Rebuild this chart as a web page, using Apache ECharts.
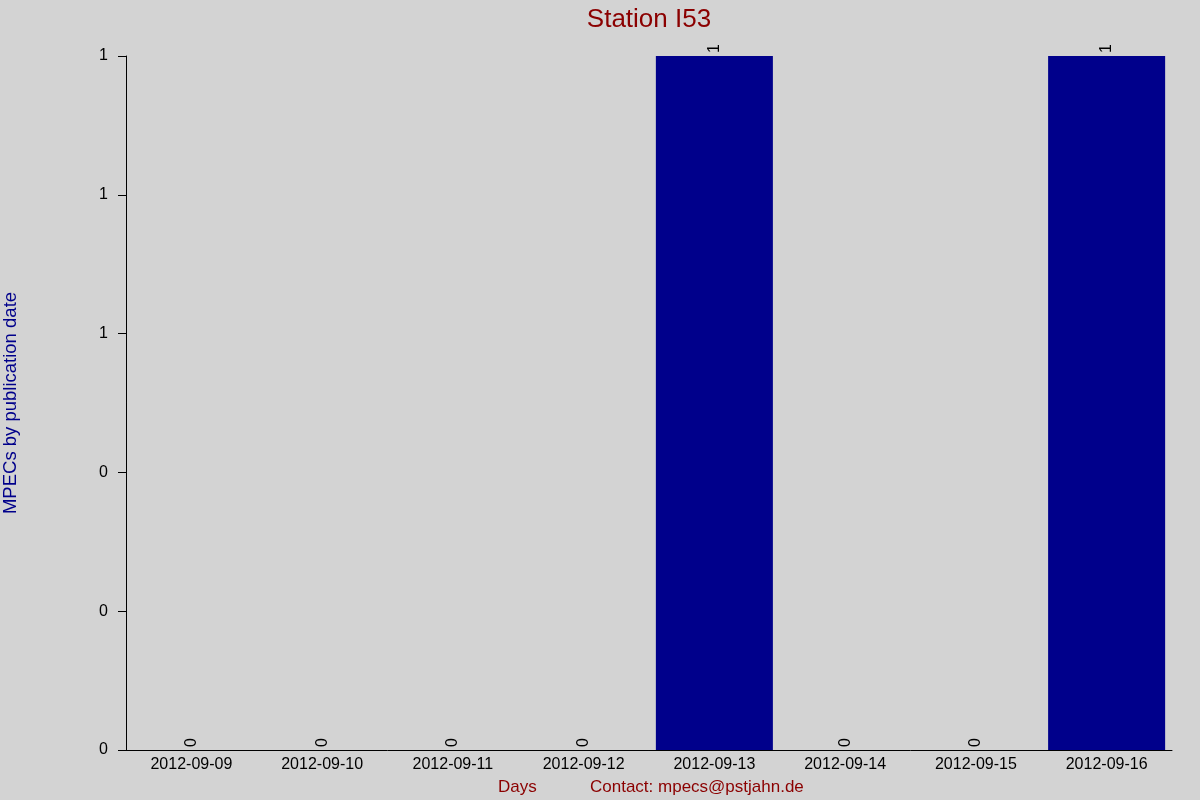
<!DOCTYPE html>
<html>
<head>
<meta charset="utf-8">
<script src="https://cdn.jsdelivr.net/npm/echarts@6/dist/echarts.min.js"></script>
<style>html,body{margin:0;padding:0;background:#d3d3d3;}#c{width:1200px;height:800px;}</style>
</head>
<body>
<div id="c"></div>
<script>
const categories = ['2012-09-09','2012-09-10','2012-09-11','2012-09-12','2012-09-13','2012-09-14','2012-09-15','2012-09-16'];
const counts = [0,0,0,0,1,0,0,1];
const yTicks = { min: 0, max: 1, interval: 0.2 };

const FF = 'Liberation Sans, Arial, sans-serif';
const chart = echarts.init(document.getElementById('c'));
chart.setOption({
  backgroundColor: '#d3d3d3',
  animation: false,
  textStyle: { fontFamily: FF },
  title: {
    text: 'Station I53',
    left: 644, top: 2, textAlign: 'center',
    textStyle: { color: '#8b0000', fontSize: 26, fontWeight: 'normal', fontFamily: FF }
  },
  grid: { left: 126, right: 28, top: 56, bottom: 50, containLabel: false, outerBoundsMode: 'none' },
  xAxis: {
    type: 'category',
    data: categories,
    axisLine: { lineStyle: { color: '#000', width: 1 } },
    axisTick: { show: false },
    axisLabel: { color: '#000', fontSize: 16, margin: 7, fontFamily: FF }
  },
  yAxis: {
    type: 'value',
    min: yTicks.min, max: yTicks.max, interval: yTicks.interval,
    name: 'MPECs by publication date',
    nameLocation: 'middle',
    nameGap: 106,
    nameTextStyle: { color: '#00008b', fontSize: 18.5, fontFamily: FF },
    axisLine: { show: true, lineStyle: { color: '#000', width: 1 } },
    axisTick: { show: true, length: 8, lineStyle: { color: '#000' } },
    splitLine: { show: false },
    axisLabel: { color: '#000', fontSize: 16, margin: 18, formatter: v => String(Math.round(v)), fontFamily: FF }
  },
  series: [{
    type: 'bar',
    data: counts,
    barCategoryGap: '10.5%',
    itemStyle: { color: '#00008b' },
    label: {
      show: true, position: 'top', rotate: 90, distance: 3,
      align: 'left', verticalAlign: 'middle',
      color: '#000', fontSize: 16, fontFamily: FF
    }
  }],
  graphic: [
    { type: 'text', left: 498, top: 779, style: { text: 'Days', fill: '#8b0000', font: '17px Liberation Sans, Arial, sans-serif' } },
    { type: 'text', left: 590, top: 779, style: { text: 'Contact: mpecs@pstjahn.de', fill: '#8b0000', font: '17px Liberation Sans, Arial, sans-serif' } }
  ]
});
</script>
</body>
</html>
